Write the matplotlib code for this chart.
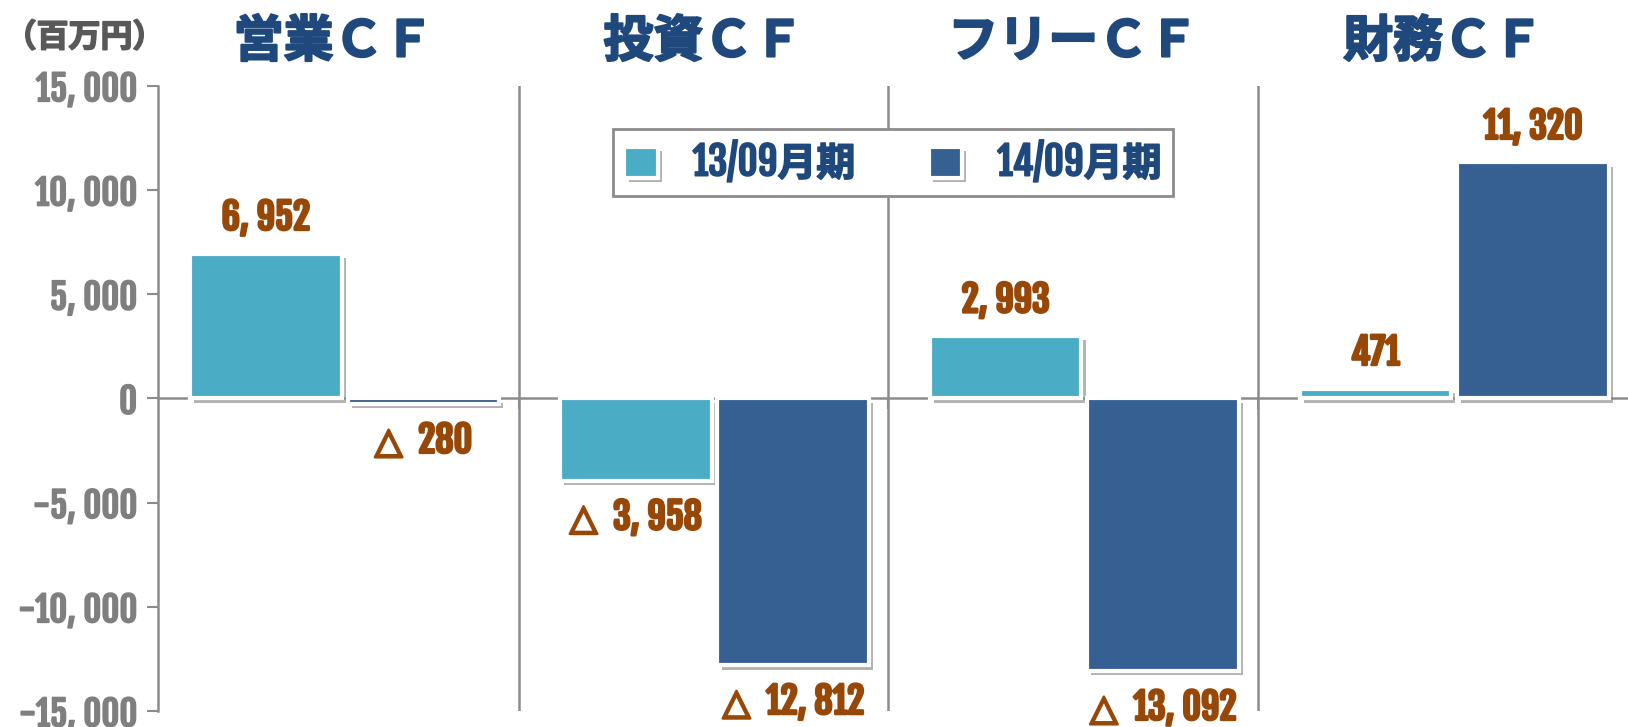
import matplotlib.pyplot as plt
import matplotlib.patheffects as pe
import matplotlib.transforms as mtransforms

# データ（百万円）
categories = ['営業ＣＦ', '投資ＣＦ', 'フリーＣＦ', '財務ＣＦ']
series_names = ['13/09月期', '14/09月期']
fy13 = [6952, -3958, 2993, 471]
fy14 = [-280, -12812, -13092, 11320]
yticks = [15000, 10000, 5000, 0, -5000, -10000, -15000]

c13 = '#4BACC6'
c14 = '#366092'
c_label = '#974706'
c_title = '#1F497D'
c_tick = '#7F7F7F'
c_line = '#8C8C8C'

num_font = ['Fjalla One', 'DejaVu Sans']
jp_font = ['Fjalla One', 'Noto Sans CJK JP', 'DejaVu Sans']
cjk = ['Noto Sans CJK JP', 'DejaVu Sans']


def fmt(v):
    s = f"{abs(v):,}".replace(',', ', ')
    return s if v >= 0 else '△  ' + s


def heavy(c, lw=1.4):
    return [pe.withStroke(linewidth=lw, foreground=c)]


fig = plt.figure(figsize=(16.28, 7.27), dpi=100)
ax = fig.add_axes([0.097, 0.022, 0.903, 0.86])

shadow = [pe.SimplePatchShadow(offset=(3, -3), shadow_rgbFace='#7f7f7f', alpha=0.6), pe.Normal()]
x = list(range(len(categories)))
w = 0.41
off = 0.213
b13 = ax.bar([i - off for i in x], fy13, w, color=c13, edgecolor='white', linewidth=3,
             label=series_names[0], zorder=3, path_effects=shadow)
b14 = ax.bar([i + off for i in x], fy14, w, color=c14, edgecolor='white', linewidth=3,
             label=series_names[1], zorder=3, path_effects=shadow)

# 数値ラベル
for bars, vals in [(b13, fy13), (b14, fy14)]:
    for r, v in zip(bars, vals):
        cx = r.get_x() + r.get_width() / 2
        dy = 26 if v >= 0 else -26
        ax.annotate(fmt(v), (cx, v), xytext=(0, dy), textcoords='offset points',
                    ha='center', va='center', fontsize=26, fontweight='bold',
                    color=c_label, family=num_font, zorder=5,
                    path_effects=heavy(c_label, 1.8))

# 区切り線
dividers = [i + 0.47 for i in x[:-1]]
for d in dividers:
    ax.axvline(d, color=c_line, lw=1.8, zorder=1)

ax.set_xlim(-0.505, 3.47)
ax.set_ylim(-15000, 15000)
ax.set_yticks(yticks)
ax.set_yticklabels([f"{v:,}".replace(',', ', ') for v in yticks],
                   fontsize=25, fontweight='bold', color=c_tick, family=num_font)
for t in ax.get_yticklabels():
    t.set_path_effects(heavy(c_tick, 1.2))
ax.set_xticks(dividers)
ax.set_xticklabels([])
ax.tick_params(axis='y', length=8, width=1.5, color=c_line, pad=7)
ax.tick_params(axis='x', length=8, width=1.5, color=c_line)

for s in ['top', 'right']:
    ax.spines[s].set_visible(False)
ax.spines['left'].set_color(c_line)
ax.spines['left'].set_linewidth(1.8)
ax.spines['bottom'].set_position(('data', 0))
ax.spines['bottom'].set_color(c_line)
ax.spines['bottom'].set_linewidth(1.8)
ax.spines['bottom'].set_zorder(2)

# 見出し
trans = mtransforms.blended_transform_factory(ax.transData, ax.transAxes)
for i, t in zip(x, categories):
    ax.text(i - 0.03, 1.07, t, transform=trans, ha='center', va='center', fontsize=36,
            fontweight='bold', color=c_title, family=cjk, clip_on=False,
            path_effects=heavy(c_title, 1.5))

fig.text(0.052, 0.948, '（百万円）', ha='center', va='center', fontsize=23,
         fontweight='bold', color='#595959', family=cjk, path_effects=heavy('#595959', 1.2))

leg = ax.legend(loc='upper center', bbox_to_anchor=(0.5, 0.962), ncol=2, frameon=True,
                fancybox=False, framealpha=1, edgecolor=c_line, borderpad=0.3,
                handlelength=0.85, handleheight=0.85, handletextpad=0.9, columnspacing=1.9,
                prop={'family': jp_font, 'weight': 'bold', 'size': 28})
leg.get_frame().set_linewidth(2)
for t in leg.get_texts():
    t.set_color(c_title)
    t.set_path_effects(heavy(c_title, 1.2))
leg.set_zorder(6)

fig.savefig('out.png', dpi=100)
